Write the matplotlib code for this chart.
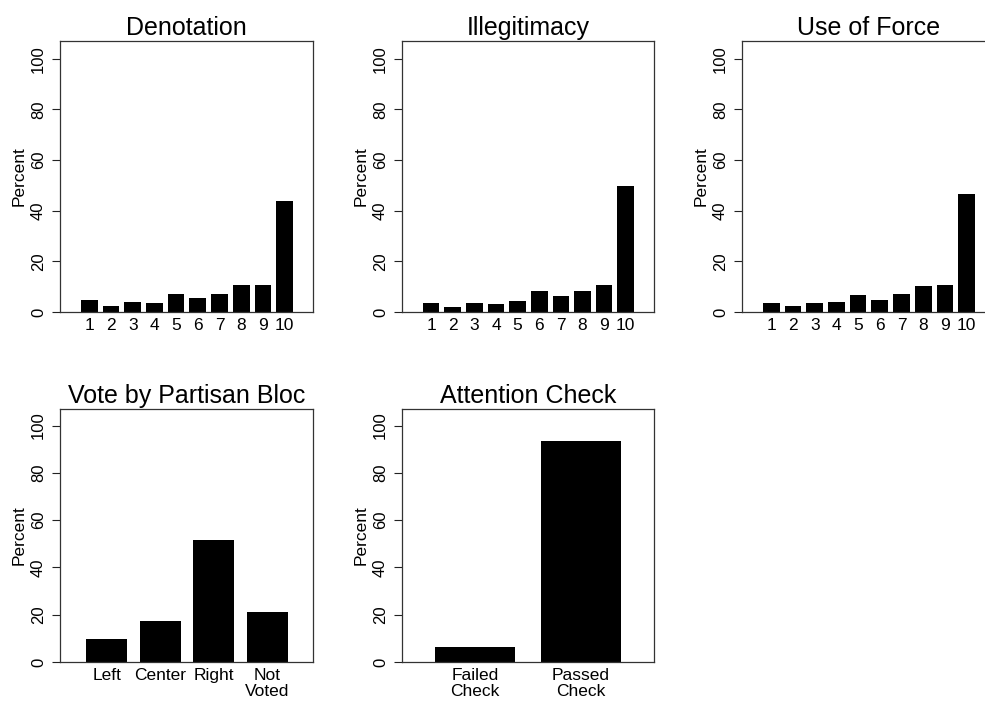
import matplotlib
matplotlib.use("Agg")
import matplotlib.pyplot as plt

plt.rcParams['font.family'] = ['Liberation Sans', 'DejaVu Sans']

scale_labels = ['1', '2', '3', '4', '5', '6', '7', '8', '9', '10']
denotation = [4.6, 2.2, 4.1, 3.7, 7.0, 5.4, 7.2, 10.8, 10.8, 43.7]
illegitimacy = [3.4, 1.8, 3.7, 3.2, 4.5, 8.4, 6.2, 8.3, 10.5, 49.9]
use_of_force = [3.7, 2.4, 3.7, 4.1, 6.6, 4.9, 7.2, 10.1, 10.5, 46.7]

bloc_labels = ['Left', 'Center', 'Right', 'Not\nVoted']
bloc_values = [9.8, 17.5, 51.6, 21.2]

check_labels = ['Failed\nCheck', 'Passed\nCheck']
check_values = [6.4, 93.6]

W, H = 985, 706
fig = plt.figure(figsize=(W / 100, H / 100), dpi=100)


def make_ax(left, right, top, bottom):
    return fig.add_axes([left / W, 1 - bottom / H, (right - left) / W, (bottom - top) / H])


def style(ax, title, labels, xlim):
    ax.set_ylim(0, 107)
    ax.set_xlim(*xlim)
    ax.set_yticks([0, 20, 40, 60, 80, 100])
    ax.set_xticks(range(len(labels)))
    ax.set_xticklabels(labels, fontsize=12.5, linespacing=1.1)
    for lab in ax.get_yticklabels():
        lab.set_rotation(90)
        lab.set_va('center')
    ax.tick_params(axis='y', labelsize=12, length=6, width=0.8, pad=4, color='#222222')
    ax.tick_params(axis='x', length=0, pad=4)
    for s in ax.spines.values():
        s.set_linewidth(0.9)
        s.set_color('#333333')
    ax.set_ylabel('Percent', fontsize=12.5, labelpad=3)
    ax.set_title(title, fontsize=18, pad=4.5)


ax1 = make_ax(60, 313, 41, 312)
ax1.bar(range(10), denotation, width=0.77, color='black')
style(ax1, 'Denotation', scale_labels, (-1.35, 10.31))

ax2 = make_ax(402, 654, 41, 312)
ax2.bar(range(10), illegitimacy, width=0.77, color='black')
style(ax2, 'Illegitimacy', scale_labels, (-1.35, 10.31))

ax3 = make_ax(742, 995, 41, 312)
ax3.bar(range(10), use_of_force, width=0.77, color='black')
style(ax3, 'Use of Force', scale_labels, (-1.35, 10.31))

ax4 = make_ax(60, 313, 409, 662)
ax4.bar(range(4), bloc_values, width=0.765, color='black')
style(ax4, 'Vote by Partisan Bloc', bloc_labels, (-0.87, 3.85))

ax5 = make_ax(402, 654, 409, 662)
ax5.bar(range(2), check_values, width=0.755, color='black')
style(ax5, 'Attention Check', check_labels, (-0.69, 1.69))

fig.savefig('out.png', dpi=100)
